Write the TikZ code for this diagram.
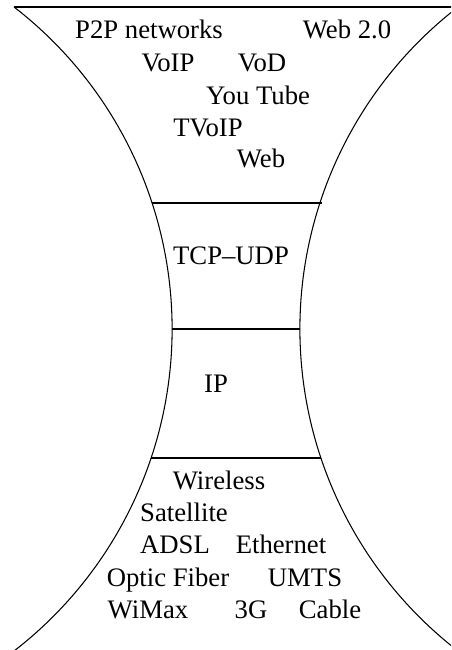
\documentclass[tikz,border=0pt]{standalone}
\usepackage{fontspec}
\setmainfont{Liberation Serif}
\usepackage{tikz}

\begin{document}
\begin{tikzpicture}[
        layer/.style={line width=0.6pt},
        word/.style={anchor=base,inner sep=0pt,font=\fontsize{15.2}{18}\selectfont}
    ]
        % Fix the page
        \useasboundingbox (0,0) rectangle (9.02,13);
        \clip (0,0) rectangle (9.02,13);

        % Draw the hourglass
        \coordinate (tl) at (0.28,12.86);
        \coordinate (tr) at (9.16,12.86);
        \draw[layer] (tl) -- (tr);
        \draw[layer] (tl) arc[start angle=52.3,end angle=-52.3,radius=8.14];
        \draw[layer] (tr) arc[start angle=127.7,end angle=232.3,radius=8.14];

        % Draw the layer borders
        \foreach \y/\xl/\xr in {8.94/3.04/6.44, 6.42/3.44/6.00, 3.84/3.02/6.42}
            \draw[layer] (\xl,\y) -- (\xr,\y);

        % Applications
        \node[word] (p2p) at (2.98,12.22) {P2P networks};
        \node[word] (web20) at (6.94,12.22) {Web 2.0};
        \node[word] (voip) at (3.36,11.56) {VoIP};
        \node[word] (vod) at (5.24,11.56) {VoD};
        \node[word] (youtube) at (5.16,10.90) {You Tube};
        \node[word] (tvoip) at (4.16,10.26) {TVoIP};
        \node[word] (web) at (5.22,9.64) {Web};

        % Transport and network
        \node[word] (tcpudp) at (4.62,7.70) {TCP--UDP};
        \node[word] (ip) at (4.32,5.14) {IP};

        % Access
        \node[word] (wireless) at (4.38,3.20) {Wireless};
        \node[word] (satellite) at (3.68,2.56) {Satellite};
        \node[word] (adsl) at (3.50,1.92) {ADSL};
        \node[word] (ethernet) at (5.62,1.92) {Ethernet};
        \node[word] (optic) at (3.36,1.26) {Optic Fiber};
        \node[word] (umts) at (6.10,1.26) {UMTS};
        \node[word] (wimax) at (2.96,0.62) {WiMax};
        \node[word] (threeg) at (5.02,0.62) {3G};
        \node[word] (cable) at (6.60,0.62) {Cable};
    \end{tikzpicture}
\end{document}
